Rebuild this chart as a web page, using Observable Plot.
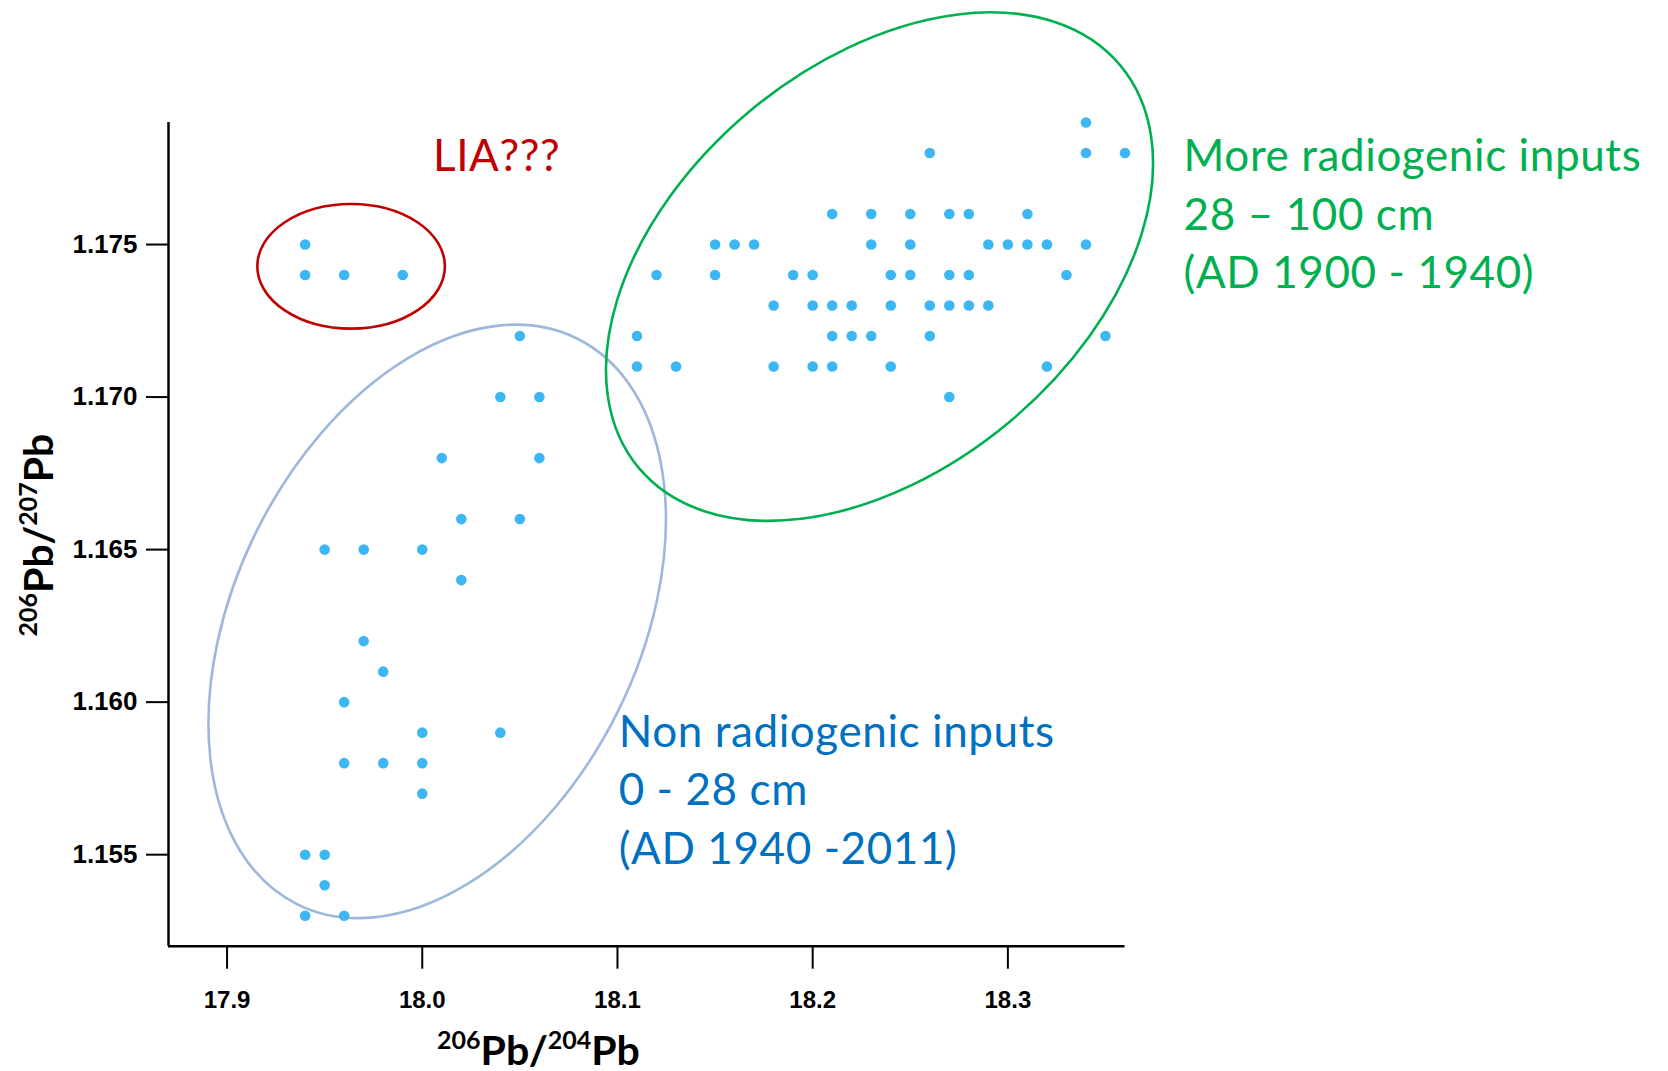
<!DOCTYPE html>
<html>
<head>
<meta charset="utf-8">
<script src="https://cdn.jsdelivr.net/npm/d3@7"></script>
<script src="https://cdn.jsdelivr.net/npm/@observablehq/plot@0.6"></script>
<style>
  html, body { margin: 0; padding: 0; background: #fff; overflow: hidden; }
  #chart svg { display: block; }
</style>
</head>
<body>
<div id="chart"></div>
<script>
// Lead isotope ratios: 206Pb/204Pb (x) against 206Pb/207Pb (y), one pair of arrays per group

// Little Ice Age candidates
const liaX = [17.94, 17.94, 17.96, 17.99];
const liaY = [1.175, 1.174, 1.174, 1.174];

// Non radiogenic inputs, 0 - 28 cm
const nonRadX = [18.05, 18.04, 18.06, 18.01, 18.06, 18.02, 18.05, 17.95, 17.97, 18.00,
                 18.02, 17.97, 17.98, 17.96, 18.00, 18.04, 17.96, 17.98, 18.00, 18.00,
                 17.94, 17.95, 17.95, 17.94, 17.96];
const nonRadY = [1.172, 1.170, 1.170, 1.168, 1.168, 1.166, 1.166, 1.165, 1.165, 1.165,
                 1.164, 1.162, 1.161, 1.160, 1.159, 1.159, 1.158, 1.158, 1.158, 1.157,
                 1.155, 1.155, 1.154, 1.153, 1.153];

// More radiogenic inputs, 28 - 100 cm
const radX = [18.34,
              18.26, 18.34, 18.36,
              18.21, 18.23, 18.25, 18.27, 18.28, 18.31,
              18.15, 18.16, 18.17, 18.23, 18.25, 18.29, 18.30, 18.31, 18.32, 18.34,
              18.12, 18.15, 18.19, 18.20, 18.24, 18.25, 18.27, 18.28, 18.33,
              18.18, 18.20, 18.21, 18.22, 18.24, 18.26, 18.27, 18.28, 18.29,
              18.11, 18.21, 18.22, 18.23, 18.26, 18.35,
              18.11, 18.13, 18.18, 18.20, 18.21, 18.24, 18.32,
              18.27];
const radY = [1.179,
              1.178, 1.178, 1.178,
              1.176, 1.176, 1.176, 1.176, 1.176, 1.176,
              1.175, 1.175, 1.175, 1.175, 1.175, 1.175, 1.175, 1.175, 1.175, 1.175,
              1.174, 1.174, 1.174, 1.174, 1.174, 1.174, 1.174, 1.174, 1.174,
              1.173, 1.173, 1.173, 1.173, 1.173, 1.173, 1.173, 1.173, 1.173,
              1.172, 1.172, 1.172, 1.172, 1.172, 1.172,
              1.171, 1.171, 1.171, 1.171, 1.171, 1.171, 1.171,
              1.170];

// Axis ticks
const xTicks = [17.9, 18.0, 18.1, 18.2, 18.3];
const yTicks = [1.155, 1.160, 1.165, 1.170, 1.175];

// Annotation labels
const noteText = [
  "LIA???",
  "More radiogenic inputs\n28 \u2013 100 cm\n(AD 1900 - 1940)",
  "Non radiogenic inputs\n0 - 28 cm\n(AD 1940 -2011)"
];

// ---- layout and styling ----
const xDomain = [17.87, 18.36];
const yDomain = [1.152, 1.179];
const noteX = [18.0055, 18.3900, 18.1006];
const noteY = [1.1774, 1.17356, 1.1547];
const noteColor = ["#C00000", "#00B050", "#0070C0"];

// group outlines: centre in data units, semi-axes (px) and tilt (deg)
const rings = [
  {cx: 17.9638, cy: 1.17427, rx: 93.8,  ry: 62.3,  tilt: 0,     color: "#C00000"},
  {cx: 18.0079, cy: 1.16263, rx: 315.6, ry: 201.9, tilt: -63.7, color: "#9DB8DC"},
  {cx: 18.2345, cy: 1.17426, rx: 313.8, ry: 202.5, tilt: -39.9, color: "#00B050"}
];

const points = [
  ...liaX.map((x, i) => ({x, y: liaY[i]})),
  ...nonRadX.map((x, i) => ({x, y: nonRadY[i]})),
  ...radX.map((x, i) => ({x, y: radY[i]}))
];
const notes = noteText.map((text, i) => ({text, x: noteX[i], y: noteY[i], color: noteColor[i]}));

const plot = Plot.plot({
  width: 1668,
  height: 1071,
  marginLeft: 168,
  marginRight: 543.5,
  marginTop: 122,
  marginBottom: 125.3,
  x: {domain: xDomain},
  y: {domain: yDomain},
  style: {background: "#fff", color: "#000", fontFamily: "'Liberation Sans', Arial, sans-serif", overflow: "visible"},
  marks: [
    Plot.axisX({ticks: xTicks, tickFormat: d3.format(".1f"), tickSize: 23, tickPadding: 22,
                fontSize: 24, fontWeight: "bold", strokeWidth: 2, label: null}),
    Plot.axisY({ticks: yTicks, tickFormat: d3.format(".3f"), tickSize: 22, tickPadding: 9,
                fontSize: 26, fontWeight: "bold", strokeWidth: 2, label: null}),
    Plot.ruleX([xDomain[0]], {strokeWidth: 2.5}),
    Plot.ruleY([yDomain[0]], {strokeWidth: 2.5}),
    Plot.dot(points, {x: "x", y: "y", r: 5.3, fill: "#3DB7F4", stroke: null}),
    Plot.text(notes, {x: "x", y: "y", text: "text", fill: "color", textAnchor: "start",
                      lineAnchor: "bottom", lineHeight: 1.33, fontSize: 44,
                      fontFamily: "Lato, 'Open Sans', sans-serif"})
  ]
});

document.getElementById("chart").appendChild(plot);

// slightly looser tracking on the annotation labels
d3.select(plot).selectAll("g[aria-label='text'] text").attr("letter-spacing", 0.6);

// Group outlines drawn beneath the dots, centred through the plot's scales
const sx = plot.scale("x"), sy = plot.scale("y");
const svg = d3.select(plot);
const ringLayer = svg.insert("g", "g[aria-label='dot']").attr("fill", "none");
for (const r of rings) {
  const px = sx.apply(r.cx), py = sy.apply(r.cy);
  ringLayer.append("ellipse")
    .attr("cx", px).attr("cy", py)
    .attr("rx", r.rx).attr("ry", r.ry)
    .attr("transform", `rotate(${r.tilt} ${px} ${py})`)
    .attr("stroke", r.color)
    .attr("stroke-width", 2.6);
}

// Axis titles with superscript mass numbers
function isoTitle(sel, a, b) {
  const sup = 25, shift = 16;
  sel.append("tspan").attr("font-size", sup).attr("dy", -shift).text(a);
  sel.append("tspan").attr("dy", shift).text("Pb/");
  sel.append("tspan").attr("font-size", sup).attr("dy", -shift).text(b);
  sel.append("tspan").attr("dy", shift).text("Pb");
}
const titleFont = "Lato, 'Open Sans', sans-serif";
const xTitle = svg.append("text")
  .attr("x", 538.5).attr("y", 1065)
  .attr("text-anchor", "middle")
  .attr("font-family", titleFont).attr("font-weight", "bold").attr("font-size", 41);
isoTitle(xTitle, "206", "204");
const yTitle = svg.append("text")
  .attr("transform", "translate(53,535) rotate(-90)")
  .attr("text-anchor", "middle")
  .attr("font-family", titleFont).attr("font-weight", "bold").attr("font-size", 41);
isoTitle(yTitle, "206", "207");
</script>
</body>
</html>
